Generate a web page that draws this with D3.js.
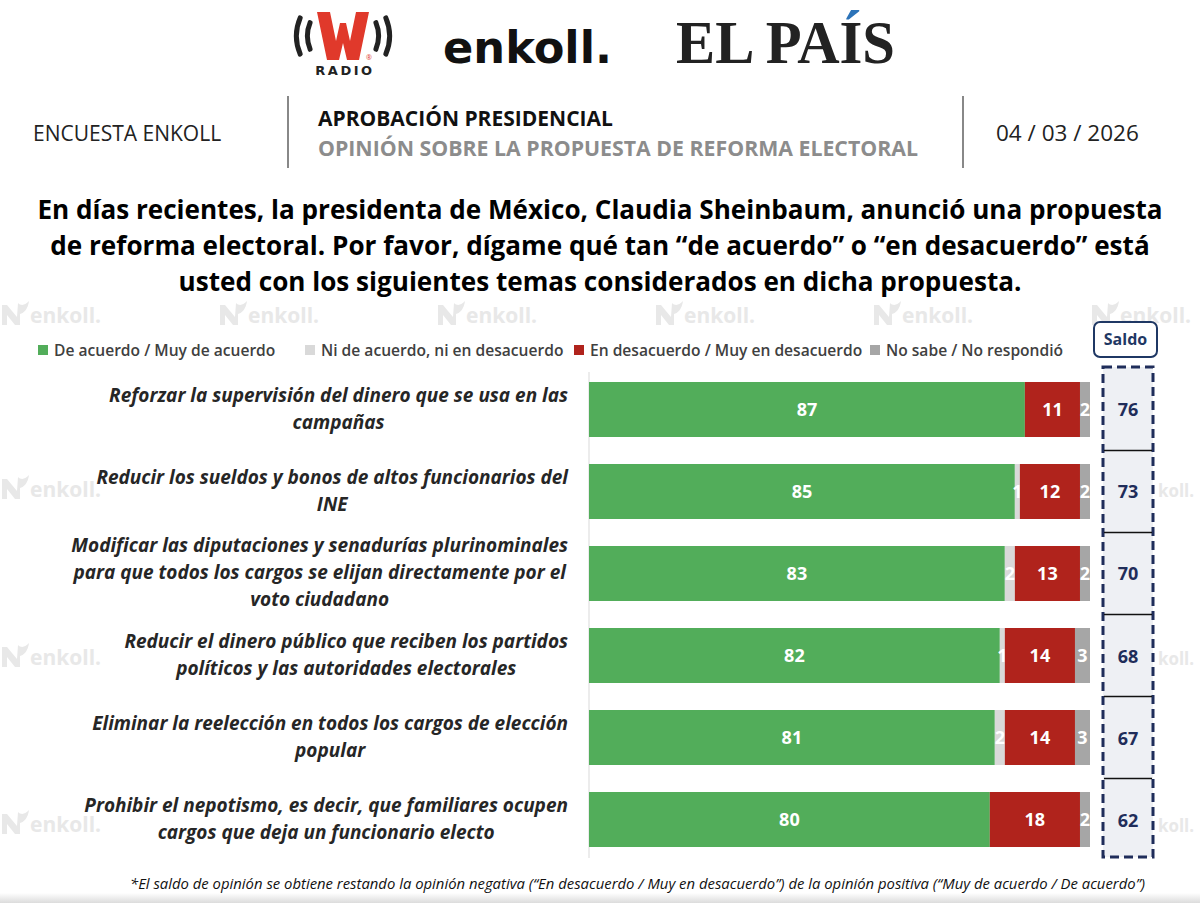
<!DOCTYPE html>
<html>
<head>
<meta charset="utf-8">
<script src="https://cdn.jsdelivr.net/npm/d3@7"></script>
<style>
  body { margin: 0; background: #fff; }
  svg { display: block; }
</style>
</head>
<body>
<svg width="1200" height="903"></svg>
<script>
// datos de la encuesta
var temas = [
  ["Reforzar la supervisión del dinero que se usa en las", "campañas"],
  ["Reducir los sueldos y bonos de altos funcionarios del", "INE"],
  ["Modificar las diputaciones y senadurías plurinominales", "para que todos los cargos se elijan directamente por el", "voto ciudadano"],
  ["Reducir el dinero público que reciben los partidos", "políticos y las autoridades electorales"],
  ["Eliminar la reelección en todos los cargos de elección", "popular"],
  ["Prohibir el nepotismo, es decir, que familiares ocupen", "cargos que deja un funcionario electo"]
];
var deAcuerdo   = [87, 85, 83, 82, 81, 80];
var ni          = [0, 1, 2, 1, 2, 0];
var desacuerdo  = [11, 12, 13, 14, 14, 18];
var noSabe      = [2, 2, 2, 3, 3, 2];
var saldo       = [76, 73, 70, 68, 67, 62];
var series = ["De acuerdo / Muy de acuerdo", "Ni de acuerdo, ni en desacuerdo", "En desacuerdo / Muy en desacuerdo", "No sabe / No respondió"];

var font = "'Open Sans', Lato, sans-serif";
var svg = d3.select("svg");
var defs = svg.append("defs");

var colores = d3.scaleOrdinal()
  .domain(series)
  .range(["#52ad5a", "#d9d9d9", "#b0231c", "#a6a6a6"]);

// marcas de agua (solo las que se ven)
function marca(xx, yy, texto, icono) {
  var g = svg.append("g").attr("transform", "translate(" + xx + "," + yy + ")").attr("fill", "#e8e8e8");
  if (icono) {
    g.append("path").attr("d", "M2,12 L2,-8 L7,-8 L17,4 L18,-10 C22,-6 26,-9 29,-12 C28,-4 24,0 20,1 L20,12 L15,12 L7,2 L7,12 Z");
  }
  var t = g.append("text").attr("x", icono ? 30 : 0).attr("y", 10)
    .style("font-family", font).style("font-weight", "bold").style("font-size", icono ? "21px" : "18px").text(texto);
  if (!icono) t.attr("textLength", 36).attr("lengthAdjust", "spacingAndGlyphs");
}
[0, 218, 436, 654, 872, 1090].forEach(function (xx) { marca(xx, 313, "enkoll.", true); });
[487, 655, 822].forEach(function (yy) { marca(0, yy, "enkoll.", true); marca(1158, yy, "koll.", false); });

// logos
var logo = svg.append("g");
logo.append("path")
  .attr("d", "M317,12 L330,12 L336,41 L340,23 L346,23 L350,41 L356,12 L369,12 L359,60 L347,60 L343,43 L339,60 L327,60 Z")
  .attr("fill", "#e0392b");
var arco = function (r, a0, a1) {
  return d3.arc().innerRadius(r - 5).outerRadius(r).cornerRadius(2)({ startAngle: a0, endAngle: a1 });
};
[38, 49].forEach(function (r) {
  logo.append("path").attr("d", arco(r, -2.02, -1.12)).attr("transform", "translate(343,36)").attr("fill", "#222");
  logo.append("path").attr("d", arco(r, 1.12, 2.02)).attr("transform", "translate(343,36)").attr("fill", "#222");
});
logo.append("text").attr("x", 366).attr("y", 60).attr("fill", "#e0392b")
  .style("font-size", "7px").style("font-family", font).text("®");
logo.append("text").attr("x", 345).attr("y", 75).attr("text-anchor", "middle")
  .attr("fill", "#222").style("font-family", "'DejaVu Sans', sans-serif").style("font-weight", "bold")
  .style("font-size", "13px").style("letter-spacing", "2.5px").text("RADIO");
logo.append("text").attr("x", 443).attr("y", 63).attr("fill", "#111")
  .style("font-family", "'DejaVu Sans', sans-serif").style("font-weight", "bold").style("font-size", "45px")
  .attr("textLength", 169).attr("lengthAdjust", "spacingAndGlyphs").text("enkoll.");

// EL PAÍS con el acento en azul
defs.append("clipPath").attr("id", "abajo").append("rect").attr("x", 600).attr("y", 21).attr("width", 400).attr("height", 60);
defs.append("clipPath").attr("id", "arriba").append("rect").attr("x", 600).attr("y", 0).attr("width", 400).attr("height", 21);
[["abajo", "#222"], ["arriba", "#2c73b8"]].forEach(function (c) {
  logo.append("text").attr("x", 676).attr("y", 63).attr("fill", c[1]).attr("clip-path", "url(#" + c[0] + ")")
    .style("font-family", "'Liberation Serif', serif").style("font-weight", "bold")
    .style("font-size", "61px").attr("textLength", 219).attr("lengthAdjust", "spacingAndGlyphs").text("EL PAÍS");
});

// cabecera
var cab = svg.append("g").style("font-family", font);
cab.append("text").attr("x", 33).attr("y", 141).attr("fill", "#222").style("font-size", "21px").text("ENCUESTA ENKOLL");
cab.append("line").attr("x1", 288).attr("x2", 288).attr("y1", 96).attr("y2", 168).attr("stroke", "#888").attr("stroke-width", 2);
cab.append("line").attr("x1", 963).attr("x2", 963).attr("y1", 96).attr("y2", 168).attr("stroke", "#888").attr("stroke-width", 2);
cab.append("text").attr("x", 318).attr("y", 126).attr("fill", "#111").style("font-weight", "bold").style("font-size", "21px").text("APROBACIÓN PRESIDENCIAL");
cab.append("text").attr("x", 318).attr("y", 156).attr("fill", "#8c8c8c").style("font-weight", "bold").style("font-size", "21px")
  .attr("textLength", 600).attr("lengthAdjust", "spacingAndGlyphs").text("OPINIÓN SOBRE LA PROPUESTA DE REFORMA ELECTORAL");
cab.append("text").attr("x", 996).attr("y", 141).attr("fill", "#222").style("font-size", "22.5px").text("04 / 03 / 2026");

// pregunta
var pregunta = [
  "En días recientes, la presidenta de México, Claudia Sheinbaum, anunció una propuesta",
  "de reforma electoral. Por favor, dígame qué tan “de acuerdo” o “en desacuerdo” está",
  "usted con los siguientes temas considerados en dicha propuesta."
];
svg.append("g").selectAll("text").data(pregunta).enter().append("text")
  .attr("x", 600).attr("y", function (d, i) { return 219 + i * 36; })
  .attr("text-anchor", "middle").attr("fill", "#000")
  .style("font-family", font).style("font-weight", "bold").style("font-size", "26.1px")
  .text(function (d) { return d; });

// leyenda
var legX = [38, 305, 574, 870];
var leg = svg.append("g").selectAll("g").data(series).enter().append("g")
  .attr("transform", function (d, i) { return "translate(" + legX[i] + ",345)"; });
leg.append("rect").attr("width", 10).attr("height", 10).attr("fill", function (d) { return colores(d); });
leg.append("text").attr("x", 16).attr("y", 10.5).attr("fill", "#404040")
  .style("font-family", font).style("font-weight", "600").style("font-size", "15.6px")
  .text(function (d) { return d; });

// escalas
var x = d3.scaleLinear().domain([0, 100]).range([589, 1090]);
var y = d3.scaleBand().domain(d3.range(temas.length))
  .range([368, 861]).paddingInner(27 / 82).paddingOuter(0.1707);

var filas = temas.map(function (t, i) {
  var o = { i: i };
  o[series[0]] = deAcuerdo[i];
  o[series[1]] = ni[i];
  o[series[2]] = desacuerdo[i];
  o[series[3]] = noSabe[i];
  return o;
});
var pila = d3.stack().keys(series)(filas);

// eje vertical
svg.append("line").attr("x1", x(0)).attr("x2", x(0)).attr("y1", 372).attr("y2", 858)
  .attr("stroke", "#d9d9d9");

var capas = svg.append("g").selectAll("g").data(pila).enter().append("g")
  .attr("fill", function (d) { return colores(d.key); });
capas.selectAll("rect").data(function (d) { return d; }).enter().append("rect")
  .attr("x", function (d) { return x(d[0]); })
  .attr("y", function (d) { return y(d.data.i); })
  .attr("width", function (d) { return x(d[1]) - x(d[0]); })
  .attr("height", y.bandwidth());
capas.selectAll("text").data(function (d) { return d.filter(function (v) { return v[1] - v[0] > 0; }); })
  .enter().append("text")
  .attr("x", function (d) { return (x(d[0]) + x(d[1])) / 2; })
  .attr("y", function (d) { return y(d.data.i) + y.bandwidth() / 2 + 6.5; })
  .attr("text-anchor", "middle").attr("fill", "#fff")
  .style("font-family", font).style("font-weight", "bold").style("font-size", "18px")
  .text(function (d) { return d[1] - d[0]; });

// etiquetas de temas
var etiquetas = svg.append("g").style("font-family", font).style("font-weight", "bold")
  .style("font-style", "italic").style("font-size", "19px").attr("fill", "#262626");
temas.forEach(function (t, i) {
  var g = etiquetas.append("g");
  var cy = y(i) + y.bandwidth() / 2;
  var y0 = cy - (t.length - 1) * 27 / 2 + 6;
  var txt = g.selectAll("text").data(t).enter().append("text")
    .attr("y", function (d, j) { return y0 + j * 27; })
    .attr("text-anchor", "middle")
    .text(function (d) { return d; });
  var maxw = d3.max(txt.nodes(), function (n) { return n.getComputedTextLength(); });
  txt.attr("x", 568 - maxw / 2);
});

// columna de saldo
var sal = svg.append("g");
sal.append("rect").attr("x", 1094).attr("y", 322).attr("width", 63).attr("height", 35).attr("rx", 6)
  .attr("fill", "#fff").attr("stroke", "#1f3864").attr("stroke-width", 2);
sal.append("text").attr("x", 1125.5).attr("y", 345).attr("text-anchor", "middle").attr("fill", "#1f3864")
  .style("font-family", font).style("font-weight", "bold").style("font-size", "16px").text("Saldo");
sal.append("rect").attr("x", 1103).attr("y", 367).attr("width", 50).attr("height", 490)
  .attr("fill", "#eef0f4").attr("stroke", "#1f2d5a").attr("stroke-width", 3).attr("stroke-dasharray", "9,5");
sal.selectAll("line").data(d3.range(1, temas.length)).enter().append("line")
  .attr("x1", 1104).attr("x2", 1152)
  .attr("y1", function (i) { return y(i) - (y.step() - y.bandwidth()) / 2; })
  .attr("y2", function (i) { return y(i) - (y.step() - y.bandwidth()) / 2; })
  .attr("stroke", "#111").attr("stroke-width", 1.5);
sal.selectAll("text.v").data(saldo).enter().append("text").attr("class", "v")
  .attr("x", 1128).attr("y", function (d, i) { return y(i) + y.bandwidth() / 2 + 7; })
  .attr("text-anchor", "middle").attr("fill", "#1f2d5a")
  .style("font-family", font).style("font-weight", "bold").style("font-size", "18px")
  .text(function (d) { return d; });

// nota y sombra inferior
var grad = defs.append("linearGradient").attr("id", "sombra").attr("x1", 0).attr("x2", 0).attr("y1", 0).attr("y2", 1);
grad.append("stop").attr("offset", 0).attr("stop-color", "#fff");
grad.append("stop").attr("offset", 1).attr("stop-color", "#dcdcdc");
svg.append("rect").attr("x", 0).attr("y", 893).attr("width", 1200).attr("height", 10).attr("fill", "url(#sombra)");
svg.append("text").attr("x", 1145).attr("y", 889).attr("text-anchor", "end").attr("fill", "#111")
  .style("font-family", font).style("font-style", "italic").style("font-size", "14px")
  .attr("textLength", 1015).attr("lengthAdjust", "spacingAndGlyphs")
  .text("*El saldo de opinión se obtiene restando la opinión negativa (“En desacuerdo / Muy en desacuerdo”) de la opinión positiva (“Muy de acuerdo / De acuerdo”)");
</script>
</body>
</html>
